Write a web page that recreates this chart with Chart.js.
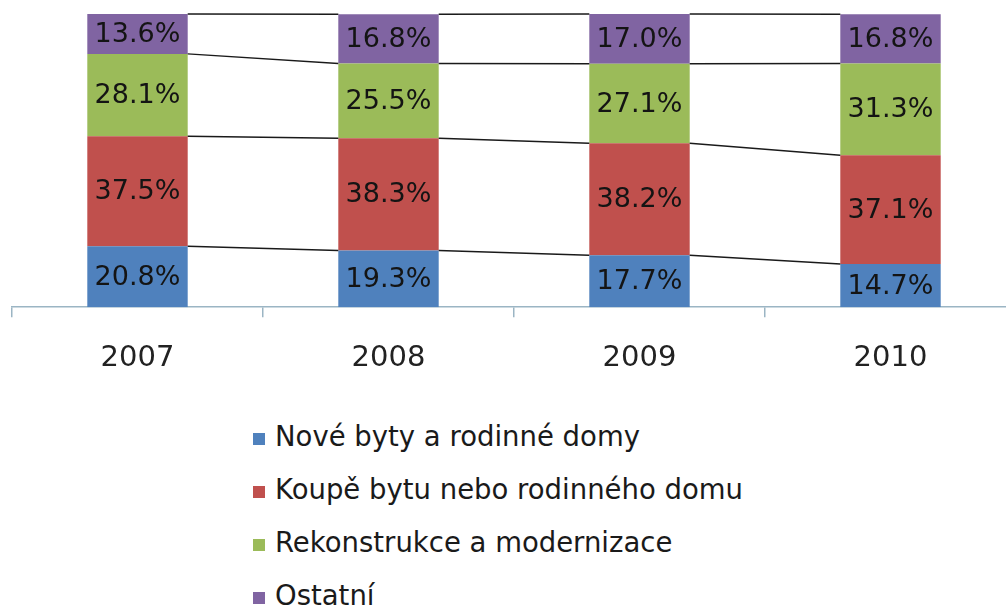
<!DOCTYPE html>
<html>
<head>
<meta charset="utf-8">
<script src="https://cdn.jsdelivr.net/npm/chart.js@4.4.1/dist/chart.umd.min.js"></script>
<style>
  html, body { margin:0; padding:0; background:#fff; overflow:hidden; width:1006px; height:607px; }
  #wrap { position:absolute; left:0; top:0; width:1016px; height:400px; }
  #legend { position:absolute; left:253px; top:420px; font-family:"DejaVu Sans", sans-serif; font-size:27.5px; color:#1a1a1a; }
  .item { height:53px; display:flex; align-items:flex-start; }
  .sw { width:12px; height:12px; margin-right:10px; margin-top:13px; }
</style>
</head>
<body>
<div id="wrap"><canvas id="c" width="1016" height="400"></canvas></div>
<div id="legend"></div>
<script>
const categories = ["2007", "2008", "2009", "2010"];
const seriesNames = ["Nové byty a rodinné domy", "Koupě bytu nebo rodinného domu", "Rekonstrukce a modernizace", "Ostatní"];
const noveByty = [20.8, 19.3, 17.7, 14.7];
const koupe = [37.5, 38.3, 38.2, 37.1];
const rekonstrukce = [28.1, 25.5, 27.1, 31.3];
const ostatni = [13.6, 16.8, 17.0, 16.8];
const colors = ["#4F81BD", "#C0504D", "#9BBB59", "#8064A2"];

const seriesData = [noveByty, koupe, rekonstrukce, ostatni];

const datasets = seriesData.map((d, i) => ({
  label: seriesNames[i],
  data: d,
  backgroundColor: colors[i],
  borderWidth: 0,
  categoryPercentage: 1.0,
  barPercentage: 0.4
}));

const seriesLines = {
  id: 'seriesLines',
  afterDatasetsDraw(chart) {
    const ctx = chart.ctx;
    ctx.save();
    ctx.strokeStyle = '#1a1a1a';
    ctx.lineWidth = 1.5;
    chart.data.datasets.forEach((ds, di) => {
      const meta = chart.getDatasetMeta(di);
      for (let i = 0; i < meta.data.length - 1; i++) {
        const a = meta.data[i], b = meta.data[i + 1];
        ctx.beginPath();
        ctx.moveTo(a.x + a.width / 2, a.y);
        ctx.lineTo(b.x - b.width / 2, b.y);
        ctx.stroke();
      }
    });
    ctx.restore();
  }
};

const dataLabels = {
  id: 'dataLabels',
  afterDatasetsDraw(chart) {
    const ctx = chart.ctx;
    ctx.save();
    ctx.fillStyle = '#141414';
    ctx.font = '27px "DejaVu Sans"';
    ctx.textAlign = 'center';
    ctx.textBaseline = 'middle';
    chart.data.datasets.forEach((ds, di) => {
      const meta = chart.getDatasetMeta(di);
      meta.data.forEach((bar, i) => {
        const v = ds.data[i];
        const cy = (bar.y + bar.base) / 2;
        ctx.fillText(v.toFixed(1) + '%', bar.x, cy + 1);
      });
    });
    ctx.restore();
  }
};

new Chart(document.getElementById('c'), {
  type: 'bar',
  data: { labels: categories, datasets },
  options: {
    responsive: false,
    animation: false,
    layout: { padding: { left: 12, right: 0, top: 14, bottom: 0 } },
    plugins: { legend: { display: false }, tooltip: { enabled: false } },
    scales: {
      x: {
        stacked: true,
        border: { display: true, color: '#9bb5c4', width: 1.5 },
        grid: { display: true, drawOnChartArea: false, drawTicks: true, tickLength: 10, color: '#9bb5c4', lineWidth: 1.5, offset: true },
        ticks: { color: '#222', font: { family: 'DejaVu Sans', size: 29 }, padding: 24 }
      },
      y: {
        stacked: true,
        display: false,
        min: 0,
        max: 100
      }
    }
  },
  plugins: [seriesLines, dataLabels]
});

const leg = document.getElementById('legend');
seriesNames.forEach((n, i) => {
  const it = document.createElement('div');
  it.className = 'item';
  const sw = document.createElement('div');
  sw.className = 'sw';
  sw.style.background = colors[i];
  const t = document.createElement('span');
  t.textContent = n;
  it.appendChild(sw);
  it.appendChild(t);
  leg.appendChild(it);
});
</script>
</body>
</html>
